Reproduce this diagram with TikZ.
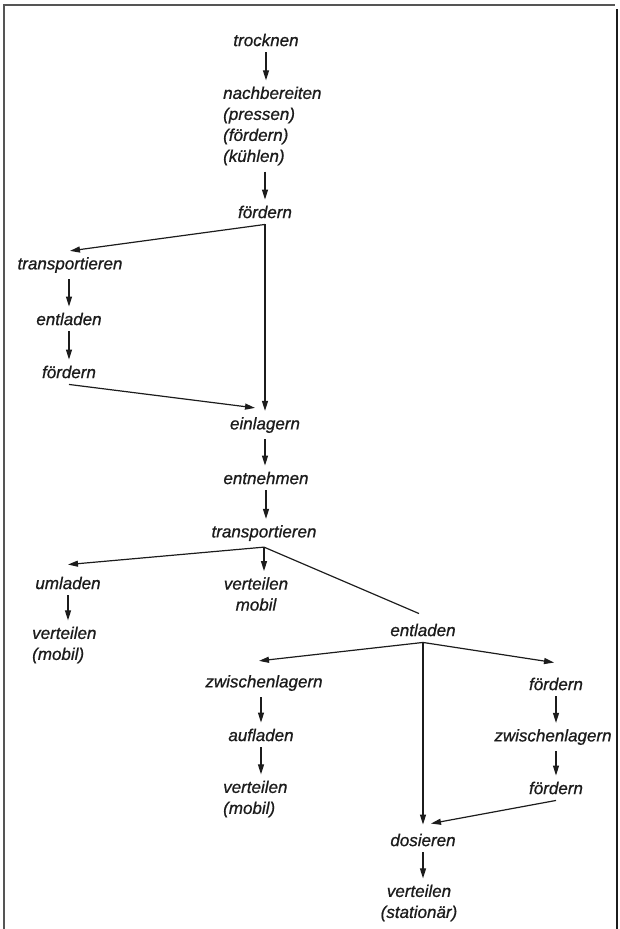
\documentclass[tikz,border=0pt]{standalone}
\usepackage{fontspec}
\setmainfont{Liberation Sans}[ItalicFeatures={FakeBold=0.8}]
\usetikzlibrary{arrows.meta}
\definecolor{ink}{HTML}{1C1C1C}
\definecolor{framegray}{HTML}{555555}
\begin{document}
\begin{tikzpicture}[x=1pt,y=-1pt,
  lbl/.style={font=\fontsize{17}{21}\selectfont\itshape, text=ink, inner xsep=1pt, inner ysep=6pt},
  arr/.style={draw=ink, line width=1.2pt, -{Triangle[length=10pt,width=6pt]}},
  ln/.style={draw=ink, line width=1.2pt},
  framel/.style={draw=framegray, line width=1.5pt},
  framer/.style={draw=ink, line width=2.5pt}]
\useasboundingbox (0,0) rectangle (619,929);
% frame
\draw[framel] (3,5) -- (615,5);
\draw[framel] (4,6) -- (4,929);
\draw[framer] (617,9) -- (617,929);
% nodes
\node[lbl] (tr) at (266,40) {trocknen};
\node[lbl, align=left, anchor=west] (nb) at (222,126) {nachbereiten\\(pressen)\\(fördern)\\(kühlen)};
\node[lbl] (f1) at (265,212) {fördern};
\node[lbl] (tp1) at (70,265) {transportieren};
\node[lbl] (el1) at (69,319) {entladen};
\node[lbl] (f2) at (69,372) {fördern};
\node[lbl] (ein) at (265,425) {einlagern};
\node[lbl] (ent) at (266,478) {entnehmen};
\node[lbl] (tp2) at (264,533) {transportieren};
\node[lbl] (uml) at (68,583) {umladen};
\node[lbl, align=center] (vm) at (256,594) {verteilen\\mobil};
\node[lbl, align=left, anchor=west] (vml) at (31,645) {verteilen\\(mobil)};
\node[lbl] (el2) at (423,630) {entladen};
\node[lbl] (zw1) at (264,683) {zwischenlagern};
\node[lbl] (auf) at (261,735) {aufladen};
\node[lbl, align=left, anchor=west] (vmm) at (222,799) {verteilen\\(mobil)};
\node[lbl] (f3) at (556,684) {fördern};
\node[lbl] (zw2) at (553,737) {zwischenlagern};
\node[lbl] (f4) at (556,788) {fördern};
\node[lbl] (dos) at (423,840) {dosieren};
\node[lbl, align=center] (vst) at (419,903) {verteilen\\(stationär)};
% junctions
\coordinate (j1) at (f1.south);
\coordinate (j2) at (tp2.south);
\coordinate (j3) at (el2.south);
% connectors
\draw[arr] (tr.south) -- (tr.south |- nb.north);
\draw[arr] (f1.north |- nb.south) -- (f1.north);
\draw[arr] (j1) -- (tp1.north);
\draw[arr] (j1) -- (j1 |- ein.north);
\draw[arr] (el1.north |- tp1.south) -- (el1.north);
\draw[arr] (el1.south) -- (el1.south |- f2.north);
\draw[arr] (f2.south) -- ([shift={(-10,-3)}]ein.north);
\draw[arr] (ein.south) -- (ein.south |- ent.north);
\draw[arr] (ent.south) -- (ent.south |- tp2.north);
\draw[arr] (j2) -- ([yshift=6pt]uml.north);
\draw[arr] (j2) -- (j2 |- vm.north);
\draw[ln] (j2) -- ([shift={(-4,-4)}]el2.north);
\draw[arr] (uml.south) -- (uml.south |- vml.north);
\draw[arr] (j3) -- ([shift={(-5,-8)}]zw1.north);
\draw[arr] (j3) -- ([shift={(-2,-9)}]f3.north);
\draw[arr] (j3) -- ([yshift=3pt]dos.north);
\draw[arr] (auf.north |- zw1.south) -- (auf.north);
\draw[arr] (auf.south) -- (auf.south |- vmm.north);
\draw[arr] (f3.south) -- (f3.south |- zw2.north);
\draw[arr] (f4.north |- zw2.south) -- (f4.north);
\draw[arr] (f4.south) -- ([shift={(8,-4)}]dos.north);
\draw[arr] (dos.south) -- (dos.south |- vst.north);
\end{tikzpicture}
\end{document}
